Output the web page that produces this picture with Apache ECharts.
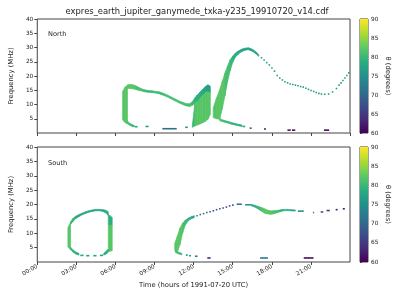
<!DOCTYPE html>
<html>
<head>
<meta charset="utf-8">
<script src="https://cdn.jsdelivr.net/npm/echarts@6/dist/echarts.min.js"></script>
<style>
  html, body { margin: 0; padding: 0; background: #fff; }
  #chart { width: 400px; height: 300px; }
</style>
</head>
<body>
<div id="chart"></div>
<script>
// strands: rows of [hour, fLow (MHz), fHigh (MHz), theta (deg)], joined row to row
const nLeftBand = [[6.55, 4.6, 14.6, 82], [6.75, 3.6, 16.2, 82], [6.92, 3.2, 16.6, 82]]
const nTopCurve = [
    [6.9, 15.7, 16.9, 82], [7.1, 15.6, 17.0, 82], [7.35, 15.5, 16.9, 82], [7.55, 15.3, 16.6, 81],
    [7.75, 15.0, 16.1, 81], [7.95, 14.8, 15.6, 81], [8.2, 14.5, 15.2, 80], [8.5, 14.3, 14.9, 80],
    [8.8, 14.2, 14.8, 80], [9.1, 14.0, 14.6, 80], [9.4, 13.7, 14.4, 80], [9.7, 13.2, 13.9, 81],
    [10.0, 12.6, 13.3, 81], [10.3, 11.9, 12.6, 81], [10.6, 11.2, 11.9, 81], [10.9, 10.5, 11.2, 81],
    [11.2, 9.9, 10.7, 81], [11.45, 9.5, 10.3, 81], [11.7, 9.3, 10.3, 81], [11.9, 9.7, 11.0, 80],
    [12.1, 10.4, 12.4, 79], [12.25, 11.0, 13.2, 79],
]
const nBottomCurl = [[6.9, 3.3, 4.3, 81], [7.1, 2.7, 3.4, 80], [7.3, 2.3, 2.9, 79], [7.45, 2.1, 2.6, 78]]
const nBlob = [
    [11.9, 2.0, 2.6, 80], [12.1, 2.5, 10.5, 82], [12.3, 2.8, 11.5, 82], [12.5, 3.2, 12.8, 82],
    [12.7, 3.6, 13.8, 82], [12.9, 4.1, 14.6, 82], [13.1, 4.8, 15.0, 82], [13.28, 6.5, 14.5, 82],
]
const nBlobTop = [
    [12.25, 11.0, 13.2, 79], [12.5, 12.6, 14.4, 78], [12.7, 13.6, 15.4, 78],
    [12.9, 14.4, 16.3, 77], [13.1, 14.8, 16.9, 77], [13.28, 14.3, 16.4, 77],
]
const nRibbon = [
    [13.5, 5.4, 8.8, 82], [13.75, 5.0, 12.2, 82], [14.0, 4.8, 15.2, 82], [14.2, 8.5, 18.2, 82],
    [14.4, 13.0, 21.0, 81], [14.6, 18.0, 23.5, 81], [14.8, 21.8, 25.7, 80], [15.0, 24.8, 27.0, 79],
    [15.2, 26.6, 28.0, 78], [15.4, 27.6, 28.7, 78], [15.6, 28.3, 29.2, 77.5], [15.8, 28.8, 29.6, 77.5],
    [16.0, 29.1, 29.8, 77.5], [16.2, 29.2, 29.9, 77.5], [16.4, 28.9, 29.6, 77.5], [16.6, 28.4, 29.1, 77.5],
    [16.8, 27.7, 28.4, 77], [17.0, 26.9, 27.5, 77],
]
const nTail = [
    [14.0, 4.3, 5.0, 81], [14.3, 3.9, 4.5, 80], [14.6, 3.5, 4.1, 80], [14.9, 3.1, 3.7, 79],
    [15.2, 2.8, 3.3, 79], [15.5, 2.5, 3.0, 78], [15.7, 2.3, 2.8, 78],
]
// dots: [hour, f, theta]
const northDots = [
    [17.15, 26.4, 77], [17.35, 25.6, 77], [17.55, 24.7, 77], [17.75, 23.9, 77],
    [17.95, 22.8, 76.5], [18.15, 21.7, 76.5], [18.35, 20.2, 76.5], [18.55, 19.3, 76.5],
    [18.75, 18.6, 76.5], [18.95, 18.0, 76.5], [19.15, 17.6, 76.5], [19.35, 17.2, 76.5],
    [19.55, 17.0, 76.5], [19.75, 16.8, 76.5], [19.95, 16.6, 76.5], [20.15, 16.3, 76.5],
    [20.35, 16.1, 76.5], [20.55, 15.7, 76.5], [20.75, 15.3, 76.5], [20.95, 14.9, 76.5],
    [21.15, 14.6, 76.5], [21.35, 14.2, 76.5], [21.55, 13.9, 76.5], [21.75, 13.7, 76.5],
    [22.0, 13.6, 76.5], [22.3, 13.7, 76.5], [22.6, 14.4, 76.5], [22.9, 15.6, 76.5],
    [23.1, 16.8, 76.5], [23.25, 17.6, 76.5], [23.4, 18.4, 76.5], [23.55, 19.3, 76.5],
    [23.7, 20.2, 76.5], [23.85, 21.1, 76.5],
]
// dashes: [hourStart, hourEnd, f, theta]
const northDashes = [
    [7.5, 7.7, 2.2, 78], [8.3, 8.55, 2.3, 78], [9.6, 10.7, 1.5, 71],
    [11.35, 11.55, 2.0, 76], [15.75, 15.95, 2.3, 77], [16.3, 16.45, 1.7, 68],
    [17.4, 17.55, 1.4, 62], [19.2, 19.45, 1.0, 61], [19.55, 19.8, 1.0, 61],
    [22.0, 22.4, 1.0, 61],
]

const sLeftBand = [[2.35, 5.2, 12.0, 82], [2.55, 4.3, 13.8, 81]]
const sTop = [
    [2.55, 13.0, 14.0, 80], [2.75, 14.2, 15.2, 79], [2.95, 15.1, 15.9, 78], [3.2, 15.8, 16.5, 78],
    [3.45, 16.4, 17.0, 78], [3.7, 16.9, 17.5, 78], [3.95, 17.3, 17.8, 78], [4.2, 17.6, 18.1, 78],
    [4.5, 17.8, 18.3, 78], [4.8, 17.8, 18.3, 78], [5.05, 17.6, 18.2, 78], [5.25, 17.1, 18.0, 79],
    [5.45, 16.2, 17.5, 79],
]
const sRightLow = [[5.45, 3.6, 13.0, 82], [5.75, 3.9, 13.0, 82]]
const sRightHigh = [[5.45, 13.0, 16.6, 79], [5.75, 13.0, 15.5, 79]]
const sBottomLeft = [[2.55, 4.3, 5.2, 80], [2.75, 3.4, 4.2, 79], [2.95, 2.8, 3.5, 78], [3.2, 2.4, 3.0, 78]]
const sBottomRight = [[5.1, 2.4, 3.0, 78], [5.3, 2.8, 3.8, 79], [5.45, 3.4, 4.5, 80]]
const sRise = [
    [10.55, 4.0, 6.5, 82], [10.75, 3.4, 9.0, 82], [10.95, 6.0, 11.8, 82], [11.15, 10.0, 13.5, 81],
    [11.35, 12.8, 14.5, 80], [11.6, 14.4, 15.3, 79], [11.85, 15.1, 15.8, 77], [12.05, 15.5, 16.1, 76],
]
const sRiseCurl = [[10.6, 3.3, 4.2, 81], [10.85, 2.8, 3.4, 80], [11.1, 2.5, 3.0, 79]]
const sWave = [
    [16.45, 19.5, 20.0, 78], [16.7, 19.1, 19.7, 79], [16.9, 18.6, 19.4, 80], [17.1, 18.0, 19.1, 81],
    [17.3, 17.4, 18.8, 82], [17.5, 16.9, 18.4, 82], [17.7, 16.7, 18.0, 82], [17.9, 16.6, 17.8, 82],
    [18.1, 16.7, 17.8, 81], [18.3, 17.0, 17.9, 81], [18.5, 17.3, 18.0, 80], [18.7, 17.6, 18.2, 79],
    [18.9, 17.8, 18.3, 79], [19.2, 17.9, 18.3, 78], [19.5, 17.8, 18.2, 77], [19.8, 17.7, 18.1, 76],
]
const southDots = [
    [12.2, 16.1, 73], [12.45, 16.5, 72], [12.7, 16.8, 71], [12.95, 17.2, 70],
    [13.2, 17.5, 69], [13.45, 17.8, 68], [13.7, 18.2, 68], [13.95, 18.5, 67],
    [14.2, 18.8, 67], [14.45, 19.1, 67], [14.7, 19.5, 67], [14.95, 19.8, 67],
]
const southDashes = [
    [15.3, 15.7, 20.1, 72], [15.95, 16.45, 19.9, 76],
    [20.0, 20.45, 17.7, 75], [21.15, 21.25, 17.2, 74],
    [21.75, 21.95, 17.4, 68], [22.2, 22.45, 17.9, 66],
    [22.9, 23.05, 18.2, 63], [23.45, 23.6, 18.5, 62],
    [3.3, 3.55, 2.3, 78], [3.75, 4.0, 2.2, 78], [4.3, 4.55, 2.2, 78], [4.8, 5.05, 2.3, 78],
    [11.4, 11.55, 2.4, 77], [11.65, 11.8, 2.2, 76], [12.1, 12.3, 2.0, 73],
    [13.05, 13.3, 1.4, 63], [17.1, 17.7, 1.4, 72], [20.45, 21.2, 1.4, 61],
]

const northStrands = [nLeftBand, nTopCurve, nBottomCurl, nBlob, nBlobTop, nRibbon, nTail]
const southStrands = [sLeftBand, sTop, sRightLow, sRightHigh, sBottomLeft, sBottomRight, sRise, sRiseCurl, sWave]

const hourTicks = [0, 3, 6, 9, 12, 15, 18, 21]
const thetaTicks = [60, 65, 70, 75, 80, 85, 90]

const viridis = ['#440154', '#472d7b', '#3b528b', '#2c728e', '#21918c', '#28ae80', '#5ec962', '#addc30', '#fde725']
const font = 'DejaVu Sans'
const ink = '#222'
const frame = '#444'

var myChart = echarts.init(document.getElementById('chart'), null, { renderer: 'canvas' })

// each row is joined to the next one of the same strand
function stripRender(params, api) {
    const i = params.dataIndexInside
    if (i >= params.dataInsideLength - 1) return null
    const color = api.visual('color')
    const pts = [
        api.coord([api.value(0, i), api.value(2, i)]),
        api.coord([api.value(0, i + 1), api.value(2, i + 1)]),
        api.coord([api.value(0, i + 1), api.value(1, i + 1)]),
        api.coord([api.value(0, i), api.value(1, i)]),
    ]
    return {
        type: 'polygon',
        shape: { points: pts },
        style: { fill: color, stroke: color, lineWidth: 0.7 },
    }
}
function dotRender(params, api) {
    const a = api.coord([api.value(0), api.value(1)])
    const b = api.coord([api.value(0) + 0.12, api.value(1)])
    return {
        type: 'rect',
        shape: { x: a[0], y: a[1] - 0.8, width: b[0] - a[0], height: 1.6 },
        style: { fill: api.visual('color') },
    }
}
function dashRender(params, api) {
    const a = api.coord([api.value(0), api.value(2)])
    const b = api.coord([api.value(1), api.value(2)])
    return {
        type: 'rect',
        shape: { x: a[0], y: a[1] - 0.8, width: b[0] - a[0], height: 1.6 },
        style: { fill: api.visual('color') },
    }
}
function barRender(params, api) {
    const cs = params.coordSys
    const stops = viridis.map((c, i) => ({ offset: i / (viridis.length - 1), color: c }))
    return {
        type: 'rect',
        shape: { x: cs.x, y: cs.y, width: cs.width, height: cs.height },
        style: { fill: new echarts.graphic.LinearGradient(0, 1, 0, 0, stops) },
    }
}

function pad(h) {
    return (h < 10 ? '0' : '') + h + ':00'
}

function timeAxis(gridIndex, showLabels) {
    return {
        type: 'value', gridIndex: gridIndex, min: 0, max: 24, interval: 3,
        axisLine: { show: false },
        axisTick: { show: true, length: 3, lineStyle: { color: frame } },
        splitLine: { show: false },
        axisLabel: {
            show: showLabels, rotate: 30, fontSize: 5.8, color: ink, fontFamily: font,
            margin: 4, showMaxLabel: false,
            formatter: v => (hourTicks.indexOf(v) >= 0 ? pad(v) : ''),
        },
        name: showLabels ? 'Time (hours of 1991-07-20 UTC)' : '',
        nameLocation: 'middle', nameGap: 20,
        nameTextStyle: { fontSize: 6.8, color: ink, fontFamily: font },
    }
}
function freqAxis(gridIndex) {
    return {
        type: 'value', gridIndex: gridIndex, min: 0, max: 40, interval: 5,
        axisLine: { show: false },
        axisTick: { show: true, length: 3, lineStyle: { color: frame } },
        splitLine: { show: false },
        axisLabel: { fontSize: 5.8, color: ink, fontFamily: font, margin: 4, showMinLabel: false },
        name: 'Frequency (MHz)', nameLocation: 'middle', nameGap: 18,
        nameTextStyle: { fontSize: 6.8, color: ink, fontFamily: font },
    }
}
function barAxis(gridIndex) {
    return {
        type: 'value', gridIndex: gridIndex, position: 'right', min: 60, max: 90, interval: 5,
        axisLine: { show: false },
        axisTick: { show: true, length: 2, lineStyle: { color: frame } },
        splitLine: { show: false },
        axisLabel: {
            fontSize: 5.8, color: ink, fontFamily: font, margin: 3,
            formatter: v => (thetaTicks.indexOf(v) >= 0 ? String(v) : ''),
        },
        name: 'θ (degrees)', nameLocation: 'middle', nameRotate: -90, nameGap: 16,
        nameTextStyle: { fontSize: 6.8, color: ink, fontFamily: font },
    }
}
function gridBox(left, top, width, height) {
    return { left: left, top: top, width: width, height: height, show: true, borderColor: frame, borderWidth: 1 }
}

let series = []
let dim3 = [], dim2 = []
function add(s, dimIdx) {
    dimIdx.push(series.length)
    series.push(Object.assign({ type: 'custom', silent: true }, s))
}
northStrands.forEach(d => add({ xAxisIndex: 0, yAxisIndex: 0, renderItem: stripRender, encode: { x: 0, y: [1, 2] }, data: d }, dim3))
add({ xAxisIndex: 0, yAxisIndex: 0, renderItem: dotRender, encode: { x: 0, y: 1 }, data: northDots }, dim2)
add({ xAxisIndex: 0, yAxisIndex: 0, renderItem: dashRender, encode: { x: [0, 1], y: 2 }, data: northDashes }, dim3)
southStrands.forEach(d => add({ xAxisIndex: 1, yAxisIndex: 1, renderItem: stripRender, encode: { x: 0, y: [1, 2] }, data: d }, dim3))
add({ xAxisIndex: 1, yAxisIndex: 1, renderItem: dotRender, encode: { x: 0, y: 1 }, data: southDots }, dim2)
add({ xAxisIndex: 1, yAxisIndex: 1, renderItem: dashRender, encode: { x: [0, 1], y: 2 }, data: southDashes }, dim3)
series.push({ type: 'custom', xAxisIndex: 2, yAxisIndex: 2, silent: true, renderItem: barRender, data: [[0.5, 75]] })
series.push({ type: 'custom', xAxisIndex: 3, yAxisIndex: 3, silent: true, renderItem: barRender, data: [[0.5, 75]] })

let option = {
    animation: false,
    title: [
        {
            text: 'expres_earth_jupiter_ganymede_txka-y235_19910720_v14.cdf',
            left: 192, top: 3, textAlign: 'center',
            textStyle: { fontSize: 8.4, fontWeight: 'normal', color: ink, fontFamily: font },
        },
        { text: 'North', left: 43, top: 26, textStyle: { fontSize: 6.6, fontWeight: 'normal', color: ink, fontFamily: font } },
        { text: 'South', left: 43, top: 155, textStyle: { fontSize: 6.6, fontWeight: 'normal', color: ink, fontFamily: font } },
    ],
    grid: [
        gridBox(31, 19, 319, 114),
        gridBox(31, 147, 319, 115),
        gridBox(360, 19, 8, 114),
        gridBox(360, 147, 8, 115),
    ],
    xAxis: [
        timeAxis(0, false),
        timeAxis(1, true),
        { type: 'value', gridIndex: 2, min: 0, max: 1, show: false },
        { type: 'value', gridIndex: 3, min: 0, max: 1, show: false },
    ],
    yAxis: [freqAxis(0), freqAxis(1), barAxis(2), barAxis(3)],
    visualMap: [
        { type: 'continuous', show: false, min: 60, max: 90, dimension: 3, seriesIndex: dim3, inRange: { color: viridis } },
        { type: 'continuous', show: false, min: 60, max: 90, dimension: 2, seriesIndex: dim2, inRange: { color: viridis } },
    ],
    series: series,
}
myChart.setOption(option)
</script>
</body>
</html>
